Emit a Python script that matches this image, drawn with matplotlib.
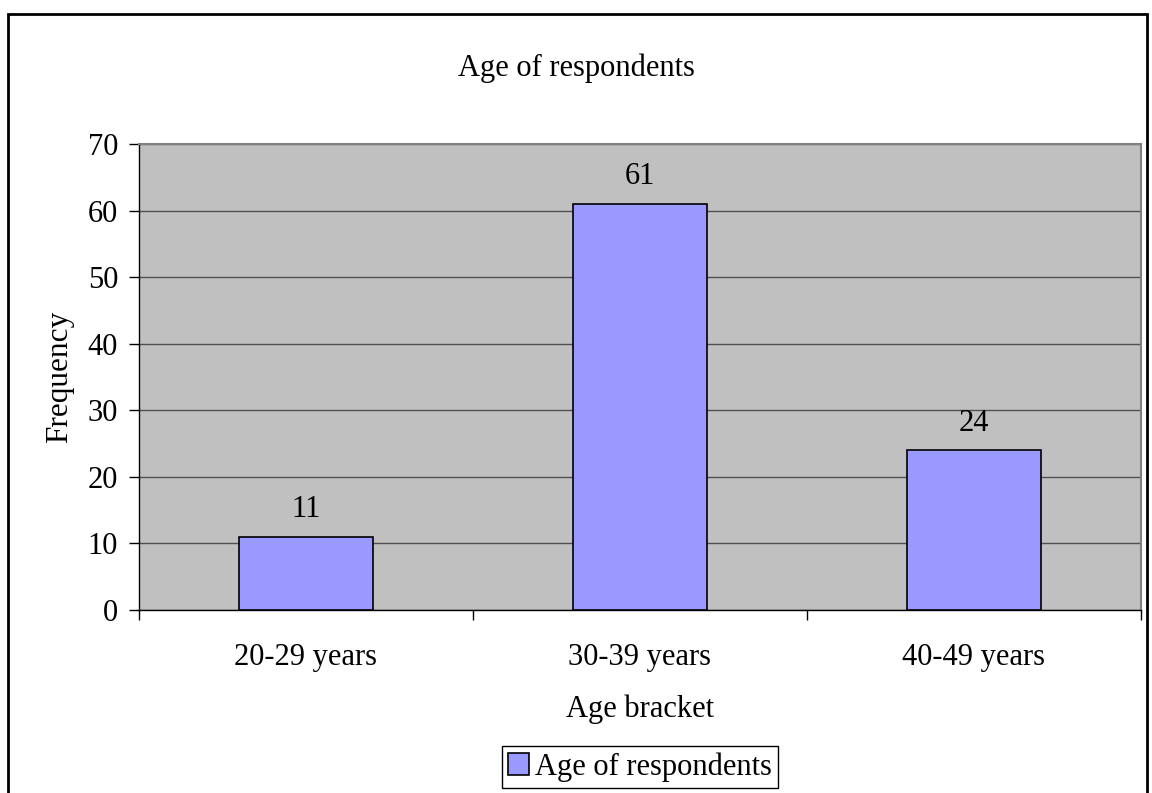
import matplotlib.pyplot as plt
from matplotlib.patches import Rectangle
import numpy as np

categories = ["20-29 years", "30-39 years", "40-49 years"]
frequency = [11, 61, 24]
series_name = "Age of respondents"

plt.rcParams['font.family'] = ['Liberation Serif', 'DejaVu Serif']

W, H = 1152, 793
fig = plt.figure(figsize=(W / 100, H / 100), dpi=100)

# plot area in pixels (left, top, right, bottom)
pl, pt, pr, pb = 139, 144, 1141, 610
ax = fig.add_axes([pl / W, 1 - pb / H, (pr - pl) / W, (pb - pt) / H])
ax.set_facecolor('#C0C0C0')

x = np.arange(len(categories))
bars = ax.bar(x, frequency, width=0.4, color='#9999FF', edgecolor='black',
              linewidth=1.2, label=series_name, zorder=3)

for xi, v in zip(x, frequency):
    ax.annotate(str(v), (xi, v), xytext=(0, 9), textcoords='offset points',
                ha='center', va='bottom', fontsize=22)

ax.set_xlim(-0.5, len(categories) - 0.5)
ax.set_ylim(0, 70)
ax.set_yticks(np.arange(0, 71, 10))
ax.yaxis.grid(True, color='#505050', linewidth=1, zorder=0)
ax.set_axisbelow(True)

ax.set_xticks(x)
ax.set_xticklabels(categories)
ax.set_xticks(np.arange(-0.5, len(categories), 1), minor=True)
ax.tick_params(axis='x', which='major', length=0, pad=24, labelsize=22)
ax.tick_params(axis='x', which='minor', length=7, width=1, direction='out')
ax.tick_params(axis='y', length=7, width=1, direction='out', labelsize=22, pad=8)

for s in ['left', 'bottom']:
    ax.spines[s].set_color('black')
    ax.spines[s].set_linewidth(1)
for s in ['top', 'right']:
    ax.spines[s].set_color('#808080')
    ax.spines[s].set_linewidth(1.5)

ax.set_ylabel("Frequency", fontsize=22.5, labelpad=10)
ax.set_xlabel("Age bracket", fontsize=22, labelpad=16)

fig.text(0.5, 1 - 68 / H, "Age of respondents", ha='center', va='center', fontsize=22)

leg = ax.legend(loc='center', bbox_to_anchor=(0.5, (pb - 767) / (pb - pt)),
                bbox_transform=ax.transAxes, fontsize=22, frameon=True,
                fancybox=False, edgecolor='black', framealpha=1,
                handlelength=0.7, handleheight=0.7, handletextpad=0.2,
                borderpad=0.2, borderaxespad=0)
leg.get_frame().set_linewidth(1)

# outer chart border
fig.patches.append(Rectangle((8 / W, -0.05), (1147 - 8) / W, 1 - 14 / H + 0.05,
                             transform=fig.transFigure, fill=False,
                             edgecolor='black', linewidth=2))

fig.savefig("out.png", dpi=100)
